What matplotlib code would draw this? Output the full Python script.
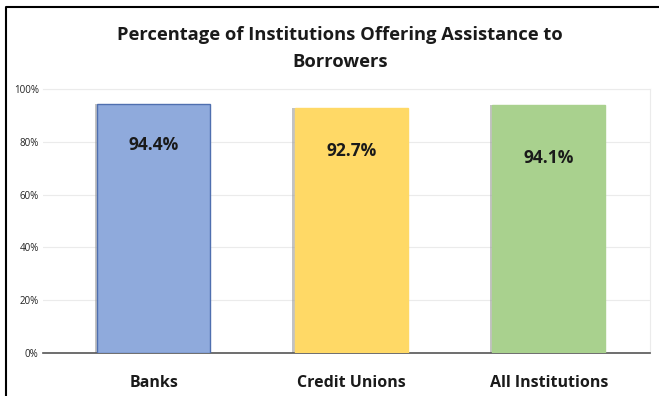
import matplotlib.pyplot as plt
from matplotlib.lines import Line2D

categories = ['Banks', 'Credit Unions', 'All Institutions']
values = [94.4, 92.7, 94.1]
labels = ['94.4%', '92.7%', '94.1%']
colors = ['#8FAADC', '#FFD966', '#A9D18E']
edges = ['#4F6FAF', '#FFD966', '#A9D18E']
yticks = [0, 20, 40, 60, 80, 100]

# how far below the bar top each label sits (in % units), as in the original
label_drop = [15.5, 16.3, 20.1]

plt.rcParams['font.family'] = ['Open Sans', 'DejaVu Sans']

fig = plt.figure(figsize=(6.59, 3.96), dpi=100)
ax = fig.add_axes([0.065, 0.109, 0.921, 0.666])

x = range(len(categories))
bw = 0.572
# soft shadow on the left of each bar
ax.bar([i - 0.014 for i in x], values, width=bw, color='#9A9A9A', alpha=0.6, zorder=2)
ax.bar(x, values, width=bw, color=colors, edgecolor=edges, linewidth=1.0, zorder=3)

for i, v in enumerate(values):
    ax.text(i, v - label_drop[i], labels[i], ha='center', va='center',
            fontsize=12.5, fontweight='bold', color='#1a1a1a', zorder=4)

ax.set_xlim(-0.562, 2.511)
ax.set_ylim(0, 100)
ax.set_yticks(yticks)
ax.set_yticklabels([f'{t}%' for t in yticks], fontsize=7, color='#222222')
ax.set_xticks(list(x))
ax.set_xticklabels(categories, fontsize=11.5, fontweight='bold', color='#1a1a1a')
ax.tick_params(axis='both', length=0)
ax.tick_params(axis='x', pad=16)
ax.tick_params(axis='y', pad=3)

ax.grid(axis='y', color='#EBEBEB', linewidth=0.8, zorder=0)
ax.spines['left'].set_visible(False)
ax.spines['top'].set_color('#EBEBEB')
ax.spines['right'].set_color('#EBEBEB')
ax.spines['bottom'].set_color('#555555')
ax.spines['bottom'].set_linewidth(1.2)

fig.text(0.516, 0.878, 'Percentage of Institutions Offering Assistance to\nBorrowers',
         ha='center', va='center', fontsize=13.2, fontweight='bold',
         color='#1a1a1a', linespacing=1.65)

# outer frame (top and left edges visible)
fig.add_artist(Line2D([0.009, 0.009, 0.999], [0.0, 0.982, 0.982],
                      transform=fig.transFigure, color='black', linewidth=1.5))

fig.savefig('out.png', dpi=100)
